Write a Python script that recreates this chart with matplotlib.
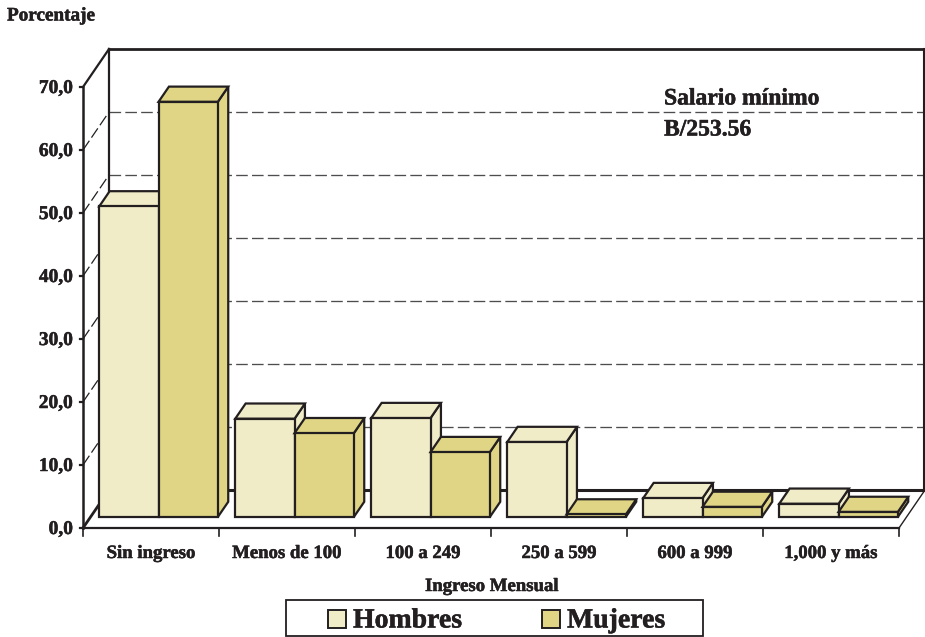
import matplotlib
matplotlib.use("Agg")
import matplotlib.pyplot as plt
from matplotlib.patches import Polygon, Rectangle
import matplotlib.patheffects as pe

# ----------------------------
# Data
# ----------------------------
categories = ["Sin ingreso", "Menos de 100", "100 a 249", "250 a 599", "600 a 999", "1,000 y más"]
hombres = [49.3, 15.6, 15.7, 11.9, 3.0, 2.1]
mujeres = [65.9, 13.3, 10.3, 0.4, 1.6, 0.8]
y_ticks = [0, 10, 20, 30, 40, 50, 60, 70]

# ----------------------------
# Style
# ----------------------------
W, H = 925, 637
COL_H = "#F1ECC8"
COL_M = "#DFD584"
EDGE = "#231F20"
GRID = "#4D4D4F"

plt.rcParams["font.family"] = "Liberation Serif"
plt.rcParams["font.weight"] = "bold"

# slight stroke, the reference type is heavier than the plain bold
HEAVY = [pe.withStroke(linewidth=0.35, foreground=EDGE)]

# pixels per data unit, and where the front corner of the chart sits
PX_X = 136.0
PX_Y = 6.3
X0, Y0 = 83, 528

# depth of the box in data units
DX = 26 / PX_X
DY = 38 / PX_Y
BAR_W = 59.3 / PX_X
D_FRONT = 0.29
D_BACK = 0.69

fig = plt.figure(figsize=(W / 100, H / 100), dpi=100)
ax = fig.add_axes([0, 0, 1, 1])
ax.set_xlim(-X0 / PX_X, (W - X0) / PX_X)
ax.set_ylim(-(H - Y0) / PX_Y, Y0 / PX_Y)
ax.axis("off")


def px(x, y):
    return x / W, 1 - y / H


def depth(x, y, d):
    return x + DX * d, y + DY * d


def line(x, y, lw=1.0, color=EDGE, z=1, **kw):
    ax.plot(x, y, color=color, lw=lw, zorder=z, solid_capstyle="projecting", clip_on=False, **kw)


def label(x, y, s, size=13.5, ha="left"):
    fig.text(*px(x, y), s, ha=ha, va="center", fontsize=size, color=EDGE, path_effects=HEAVY)


# ----------------------------
# Box
# ----------------------------
n = len(categories)
top = y_ticks[-1]

ax.add_patch(Polygon([(0, 0), (n, 0), (n + DX, DY), (DX, DY)], fc="white", ec="none", zorder=0))

for v in y_ticks[1:-1]:
    line([DX, n + DX], [v + DY, v + DY], lw=0.95, color=GRID, ls=(0, (8.8, 3.2)))
    line([0, DX], [v, v + DY], lw=0.9, color=EDGE, ls=(0, (9, 3)))

line([DX, n + DX], [DY, DY], lw=2.2)
line([DX, DX], [DY, top + DY], lw=1.6)
line([DX, n + DX], [top + DY, top + DY], lw=2.0)
line([0, DX], [top, top + DY], lw=1.6)
line([0, 0], [0, top], lw=1.8)
line([0, DX], [0, DY], lw=2.0)
line([0, n], [0, 0], lw=1.6)
line([n, n + DX], [0, DY], lw=1.0)
# right edge of the back wall, pulled in a pixel so it stays inside the image
line([n + DX - 1 / PX_X, n + DX - 1 / PX_X], [DY, top + DY], lw=1.5)

for v in y_ticks:
    line([-3 / PX_X, 0], [v, v], lw=1.6)
    label(X0 - 10, Y0 - v * PX_Y + 1.5, f"{v},0", size=14, ha="right")

for i in range(n + 1):
    line([i, i], [0, -8 / PX_Y], lw=1.2)

for i, cat in enumerate(categories):
    label(X0 + (i + 0.5) * PX_X, 553.5, cat, ha="center")


# ----------------------------
# Bars
# ----------------------------
def bar3d(x, w, h, color):
    x1 = x + w
    p = [depth(x, 0, D_FRONT), depth(x1, 0, D_FRONT), depth(x1, h, D_FRONT), depth(x, h, D_FRONT)]
    side = [depth(x1, 0, D_FRONT), depth(x1, 0, D_BACK), depth(x1, h, D_BACK), depth(x1, h, D_FRONT)]
    cap = [depth(x, h, D_FRONT), depth(x1, h, D_FRONT), depth(x1, h, D_BACK), depth(x, h, D_BACK)]
    for pts in (side, cap, p):
        ax.add_patch(Polygon(pts, fc=color, ec=EDGE, lw=1.6, joinstyle="miter", zorder=3, clip_on=False))


for i in range(n):
    left = i + 0.5 - BAR_W
    bar3d(left, BAR_W, hombres[i], COL_H)
    bar3d(left + BAR_W, BAR_W, mujeres[i], COL_M)

# ----------------------------
# Text
# ----------------------------
label(7, 16, "Porcentaje", size=13.8)
label(664, 99, "Salario mínimo", size=17)
label(664, 130, "B/253.56", size=17)
label(492, 586.5, "Ingreso Mensual", ha="center")

# ----------------------------
# Legend
# ----------------------------
def fig_rect(x0, y0, x1, y1, fc, lw):
    fig.add_artist(Rectangle(px(x0, y1), (x1 - x0) / W, (y1 - y0) / H, fc=fc, ec=EDGE, lw=lw,
                             transform=fig.transFigure))


fig_rect(286, 600, 703, 636, "white", 1.3)
fig_rect(328, 610, 346, 628, COL_H, 1.4)
fig_rect(542, 610, 560, 628, COL_M, 1.4)
label(353, 621, "Hombres", size=20)
label(567, 621, "Mujeres", size=20)

fig.savefig("out.png", dpi=100, facecolor="white")
